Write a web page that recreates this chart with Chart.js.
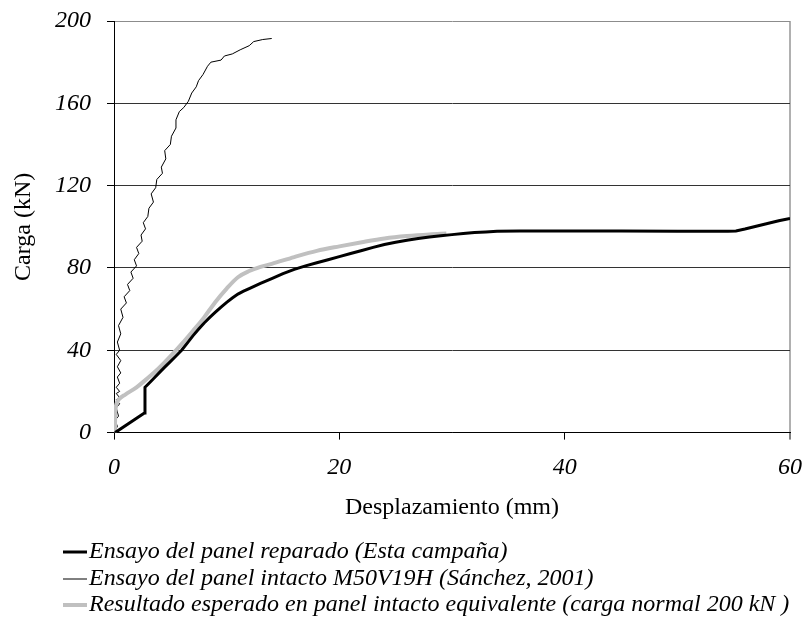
<!DOCTYPE html>
<html>
<head>
<meta charset="utf-8">
<script src="https://cdn.jsdelivr.net/npm/chart.js@4.4.1/dist/chart.umd.min.js"></script>
<style>
  html, body { margin: 0; padding: 0; background: #ffffff; }
  #wrap { width: 802px; height: 626px; }
</style>
</head>
<body>
<div id="wrap"><canvas id="chart" width="802" height="626"></canvas></div>
<script>
// Series names (legend)
const seriesNames = [
  'Ensayo del panel reparado (Esta campaña)',
  'Ensayo del panel intacto M50V19H (Sánchez, 2001)',
  'Resultado esperado en panel intacto equivalente (carga normal 200 kN )'
];

// Repaired panel test: displacement (mm) / load (kN)
const repairedX = [0.1, 2.7, 2.75, 3, 3.5, 4, 4.5, 5, 5.5, 6, 6.5, 7, 7.5, 8, 8.5, 9, 9.5, 10, 10.5, 11, 11.5, 12, 13, 14, 15, 16, 17, 18, 19, 20, 21, 22, 23, 24, 25, 26, 27, 28, 29, 30, 31, 32, 33, 34, 36, 40, 45, 50, 54.5, 55.2, 56, 57, 58, 59, 60];
const repairedY = [0, 9.5, 22, 23.4, 26.2, 29, 31.8, 34.5, 37.2, 40, 43.5, 47, 50.2, 53.3, 56, 58.5, 61, 63.3, 65.4, 67.3, 68.7, 70, 72.5, 74.8, 77.2, 79.3, 81, 82.5, 84, 85.5, 87, 88.5, 90, 91.4, 92.5, 93.5, 94.3, 95, 95.7, 96.2, 96.7, 97.2, 97.5, 97.8, 98, 98, 97.9, 97.8, 97.8, 98, 98.9, 100.3, 101.6, 102.9, 104];

// Intact panel test M50V19H (Sánchez, 2001)
const intactX = [0, 0.3, 0.1, 0.4, 0.2, 0.5, 0.2, 0.5, 0.2, 0.5, 0.2, 0.5, 0.3, 0.6, 0.3, 0.6, 0.2, 0.5, 0.3, 0.6, 0.4, 0.8, 0.6, 1.1, 0.9, 1.4, 1.2, 1.7, 1.5, 2.0, 1.8, 2.2, 2.0, 2.5, 2.4, 2.8, 2.6, 3.0, 3.1, 3.5, 3.3, 3.7, 3.8, 4.3, 4.2, 4.6, 4.5, 5.0, 5.1, 5.5, 5.5, 5.8, 6.2, 6.6, 6.9, 7.3, 7.5, 7.9, 8.3, 8.6, 9.5, 9.8, 10.5, 11.2, 12.0, 12.4, 13.2, 14.0];
const intactY = [0, 3, 6, 8, 12, 14, 16, 17, 19, 20, 22, 24, 27, 29, 32, 35, 38, 40, 44, 48, 52, 56, 60, 63, 66, 69, 72, 75, 78, 81, 84, 87, 90, 93, 96, 99, 102, 105, 109, 112, 116, 119, 123, 126, 129, 133, 137, 140, 144, 148, 152, 156, 158, 161, 165, 168, 171, 174, 178, 180, 181, 183, 184, 186, 188, 190, 191, 191.5];

// Expected result for an equivalent intact panel (normal load 200 kN)
const expectedX = [0.08, 0.1, 0.15, 0.25, 0.5, 1, 2, 3, 4, 5, 6, 7, 8, 9, 10, 11, 12, 13, 14, 16, 18, 20, 22, 24, 26, 28, 29.5];
const expectedY = [0, 8, 12, 14.5, 16.5, 18.5, 22, 26.5, 31.4, 37, 43, 49.4, 56, 63.5, 70, 75.5, 78.5, 80.5, 82, 85.3, 88.3, 90.5, 92.5, 94.3, 95.5, 96.3, 96.7];

// Axis ticks
const xTicks = [0, 20, 40, 60];
const yTicks = [0, 40, 80, 120, 160, 200];

const toPoints = (xs, ys) => xs.map((x, i) => ({ x: x, y: ys[i] }));

const serif = "'Liberation Serif', 'Times New Roman', serif";

// Legend drawn below the axes, one entry per row
const rowLegend = {
  id: 'rowLegend',
  afterDraw(chart) {
    const ctx = chart.ctx;
    const rows = [552, 579, 605];
    ctx.save();
    ctx.font = 'italic 24px ' + serif;
    ctx.textBaseline = 'middle';
    ctx.textAlign = 'left';
    chart.data.datasets.forEach((ds, i) => {
      const y = rows[i];
      ctx.strokeStyle = ds.borderColor;
      ctx.lineWidth = ds.borderWidth;
      ctx.beginPath();
      ctx.moveTo(63, y);
      ctx.lineTo(87, y);
      ctx.stroke();
      ctx.fillStyle = '#000';
      ctx.fillText(ds.label, 89, y);
    });
    ctx.restore();
  }
};

// Let the end tick labels overhang the layout padding
const noOverhangX = (s) => { s.paddingLeft = 0; s.paddingRight = 0; };
const noOverhangY = (s) => { s.paddingTop = 0; s.paddingBottom = 0; };

new Chart(document.getElementById('chart'), {
  type: 'line',
  data: {
    datasets: [
      {
        label: seriesNames[0],
        data: toPoints(repairedX, repairedY),
        borderColor: '#000000',
        borderWidth: 3,
        pointRadius: 0,
        tension: 0,
        fill: false,
        order: 1
      },
      {
        label: seriesNames[1],
        data: toPoints(intactX, intactY),
        borderColor: '#000000',
        borderWidth: 1,
        pointRadius: 0,
        tension: 0,
        fill: false,
        order: 3
      },
      {
        label: seriesNames[2],
        data: toPoints(expectedX, expectedY),
        borderColor: '#c0c0c0',
        borderWidth: 4,
        pointRadius: 0,
        cubicInterpolationMode: 'monotone',
        fill: false,
        order: 2
      }
    ]
  },
  options: {
    responsive: false,
    animation: false,
    layout: { padding: { left: 0, right: 12, top: 21, bottom: 103.6 } },
    plugins: {
      legend: { display: false },
      tooltip: { enabled: false }
    },
    scales: {
      x: {
        type: 'linear',
        min: xTicks[0],
        max: xTicks[xTicks.length - 1],
        afterBuildTicks: (s) => { s.ticks = xTicks.map(v => ({ value: v })); },
        afterFit: noOverhangX,
        border: { color: '#000', width: 1 },
        grid: {
          drawOnChartArea: true,
          color: (c) => (c.tick && c.tick.value === 60 ? '#b0b0b0' : 'rgba(0,0,0,0)'),
          lineWidth: (c) => (c.tick && c.tick.value === 60 ? 2 : 1),
          tickColor: '#000',
          tickWidth: 1,
          tickLength: 7
        },
        ticks: {
          color: '#000',
          padding: 13.6,
          maxRotation: 0,
          font: { family: serif, size: 24, style: 'italic' }
        },
        title: {
          display: true,
          text: 'Desplazamiento (mm)',
          color: '#000',
          padding: { top: -2, bottom: 0 },
          font: { family: serif, size: 24 }
        }
      },
      y: {
        type: 'linear',
        min: yTicks[0],
        max: yTicks[yTicks.length - 1],
        afterBuildTicks: (s) => { s.ticks = yTicks.map(v => ({ value: v })); },
        afterFit: noOverhangY,
        border: { color: '#000', width: 1 },
        grid: {
          color: (c) => (c.tick && c.tick.value === 200 ? '#8c8c8c' : '#333333'),
          lineWidth: 1,
          tickColor: '#000',
          tickWidth: 1,
          tickLength: 7
        },
        ticks: {
          color: '#000',
          padding: 16,
          font: { family: serif, size: 24, style: 'italic' }
        },
        title: {
          display: true,
          text: 'Carga (kN)',
          color: '#000',
          padding: { top: 9, bottom: 1.2 },
          font: { family: serif, size: 24 }
        }
      }
    }
  },
  plugins: [rowLegend]
});
</script>
</body>
</html>
